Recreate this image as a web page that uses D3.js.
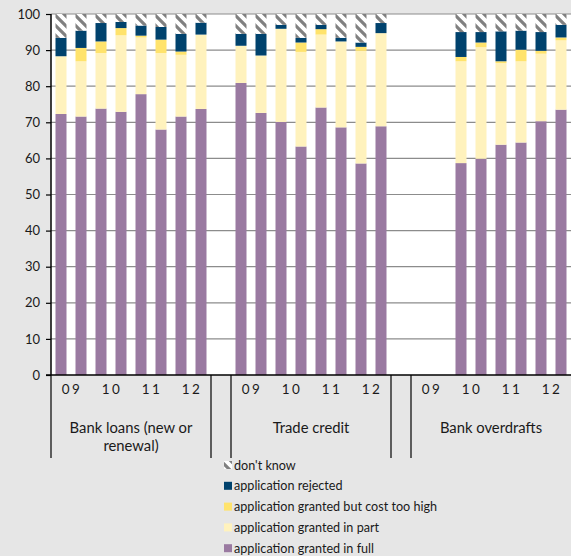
<!DOCTYPE html>
<html><head><meta charset="utf-8">
<script src="https://cdn.jsdelivr.net/npm/d3@7/dist/d3.min.js"></script>
<style>
html,body{margin:0;padding:0;background:#e6e6e6;}
svg{display:block;font-family:Lato,"Open Sans",sans-serif;}
</style></head><body>
<script>
// ---- data ----
const groups = ["Bank loans (new or renewal)", "Trade credit", "Bank overdrafts"];
const groupLines = [["Bank loans (new or", "renewal)"], ["Trade credit"], ["Bank overdrafts"]];
const periods = ["09a","09b","10a","10b","11a","11b","12a","12b"];
const yearLabels = ["09","10","11","12"];
const seriesNames = ["application granted in full","application granted in part","application granted but cost too high","application rejected","don't know"];
const grantedFull = [72.3,71.6,73.8,72.9,77.8,68.0,71.6,73.7, 80.9,72.6,70.1,63.3,74.1,68.6,58.6,68.9, null,null,58.7,59.9,63.8,64.4,70.3,73.5];
const grantedPart = [16.0,15.3,15.4,21.2,15.7,21.2,17.1,20.6, 10.3,15.9,25.8,26.2,20.2,23.8,31.2,25.8, null,null,28.2,30.9,22.6,22.5,18.7,19.2];
const costTooHigh = [0.0,3.7,3.2,2.0,0.5,3.7,0.9,0.0, 0.0,0.0,0.0,2.6,1.5,0.0,1.1,0.0, null,null,1.2,1.3,0.5,3.2,0.8,0.8];
const rejected    = [5.1,4.8,5.1,1.7,2.8,3.5,4.9,3.3, 3.3,6.0,1.1,1.3,1.2,1.0,1.2,2.8, null,null,6.9,2.9,8.3,5.3,5.2,3.5];
const dontKnow    = [6.6,4.6,2.5,2.2,3.2,3.6,5.5,2.4, 5.5,5.5,3.0,6.6,3.0,6.6,7.9,2.5, null,null,5.0,5.0,4.8,4.6,5.0,3.0];
const yTicks = [0,10,20,30,40,50,60,70,80,90,100];
const colors = ["#9a7aa1","#fff2bd","#ffe36c","#00426d","url(#dk)"];

// ---- layout ----
const W = 571, H = 556;
const x0 = 51, x1 = 571, yBottom = 375, yTop = 14;

const slots = [];
groups.forEach((g, gi) => {
  periods.forEach(p => slots.push(g + "|" + p));
  if (gi < groups.length - 1) slots.push("gap" + gi);
});
const rows = [];
let k = 0;
groups.forEach((g, gi) => periods.forEach((p, pi) => {
  rows.push({slot: g + "|" + p, vals: [grantedFull[k], grantedPart[k], costTooHigh[k], rejected[k], dontKnow[k]]});
  k++;
}));

const x = d3.scaleBand().domain(slots).range([x0, x1]).paddingInner(0.45).paddingOuter(0.225);
const y = d3.scaleLinear().domain([0, 100]).range([yBottom, yTop]);

const svg = d3.select("body").append("svg").attr("width", W).attr("height", H);
const defs = svg.append("defs");
const pat = defs.append("pattern").attr("id", "dk").attr("patternUnits", "userSpaceOnUse")
  .attr("width", 10).attr("height", 10);
pat.append("rect").attr("width", 10).attr("height", 10).attr("fill", "#fff");
pat.append("path").attr("d", "M-2,-2 L12,12 M-3,7 L3,13 M7,-3 L13,3")
  .attr("stroke", "#808080").attr("stroke-width", 3.2);

svg.append("rect").attr("width", W).attr("height", H).attr("fill", "#e6e6e6");
svg.append("rect").attr("x", x0).attr("y", yTop).attr("width", x1 - x0).attr("height", yBottom - yTop).attr("fill", "#fff");

// gridlines
svg.append("g").selectAll("line").data(yTicks.filter(t => t > 0)).join("line")
  .attr("x1", x0).attr("x2", x1).attr("y1", d => y(d)).attr("y2", d => y(d))
  .attr("stroke", "#8c8c8c").attr("stroke-width", 1.2);

// stacked bars
const stackData = rows.filter(r => r.vals[0] !== null).map(r => {
  const o = {slot: r.slot};
  seriesNames.forEach((s, i) => o[s] = r.vals[i]);
  return o;
});
const stacked = d3.stack().keys(seriesNames)(stackData);
svg.append("g").selectAll("g").data(stacked).join("g")
  .attr("fill", (d, i) => colors[i])
  .selectAll("rect").data(d => d).join("rect")
  .attr("x", d => x(d.data.slot))
  .attr("width", x.bandwidth())
  .attr("y", d => y(d[1]))
  .attr("height", d => Math.max(0, y(d[0]) - y(d[1])));

// y axis
const yAxis = d3.axisLeft(y).tickValues(yTicks).tickSize(5).tickPadding(6);
const gy = svg.append("g").attr("transform", `translate(${x0},0)`).call(yAxis);
gy.select(".domain").attr("stroke", "#000").attr("stroke-width", 1.5).attr("d", `M0,${yTop}V${yBottom}`);
gy.selectAll(".tick line").attr("stroke", "#000").attr("stroke-width", 1.2);
gy.selectAll(".tick text").attr("font-size", 13).attr("fill", "#1a1a1a").attr("font-family", "Lato, sans-serif");

// x axis line
svg.append("line").attr("x1", x0 - 5).attr("x2", x1).attr("y1", yBottom).attr("y2", yBottom)
  .attr("stroke", "#000").attr("stroke-width", 1.5);

// separators
const step = x.step();
const seps = [];
groups.forEach((g, gi) => {
  const s = x(g + "|" + periods[0]) - (step - x.bandwidth()) / 2;
  const e = x(g + "|" + periods[periods.length - 1]) + x.bandwidth() + (step - x.bandwidth()) / 2;
  seps.push(s, e);
});
svg.append("g").selectAll("line").data(seps.filter(v => v < x1 - 1)).join("line")
  .attr("x1", d => d).attr("x2", d => d).attr("y1", yBottom).attr("y2", 458)
  .attr("stroke", "#000").attr("stroke-width", 1.2);

// labels
const lab = svg.append("g").attr("fill", "#1a1a1a").attr("text-anchor", "middle");
groups.forEach((g, gi) => {
  yearLabels.forEach((yl, yi) => {
    const a = x(g + "|" + periods[yi * 2]), b = x(g + "|" + periods[yi * 2 + 1]) + x.bandwidth();
    lab.append("text").attr("x", (a + b) / 2 + 1).attr("y", 394).attr("font-size", 13.5).attr("letter-spacing", 2.5).text(yl);
  });
  const a = x(g + "|" + periods[0]), b = x(g + "|" + periods[7]) + x.bandwidth();
  groupLines[gi].forEach((ln, li) => {
    lab.append("text").attr("x", (a + b) / 2).attr("y", 433 + li * 18).attr("font-size", 14.8).text(ln);
  });
});

// legend
const legendOrder = [4, 3, 2, 1, 0];
const lg = svg.append("g").attr("font-size", 12.6).attr("fill", "#1a1a1a");
legendOrder.forEach((si, i) => {
  const yy = 465 + i * 20.8;
  lg.append("rect").attr("x", 224).attr("y", yy - 4).attr("width", 8).attr("height", 8).attr("fill", colors[si]);
  lg.append("text").attr("x", 234).attr("y", yy + 4.5).text(seriesNames[si]);
});
</script>
</body></html>
